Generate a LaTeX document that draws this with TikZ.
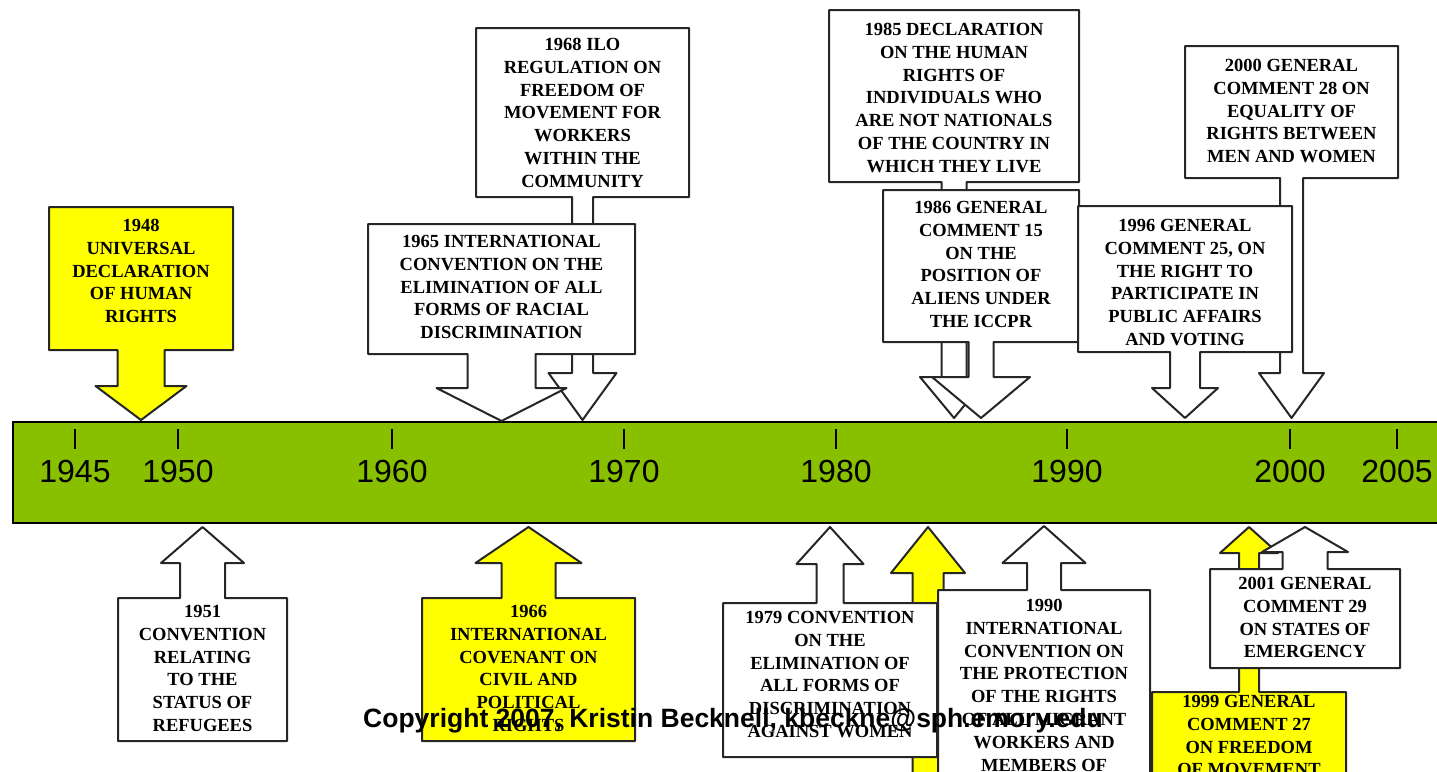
\documentclass[tikz,border=0pt]{standalone}
\usepackage{fontspec}
\setmainfont{Liberation Serif}
\newfontfamily\yearfont{Liberation Sans}
\usepackage{xcolor}
\usepackage{tikz}
\definecolor{barGreen}{RGB}{136,192,0}
\definecolor{calloutYellow}{RGB}{255,255,0}

% callout outline: style, left, right, far side y, arrow side y, half stem, half head, neck y, tip y
\newcommand{\calloutshape}[9]{%
  \draw[#1] (#2,#4) -- (#3,#4) -- (#3,#5)
    -- ({(#2+#3)/2+#6},#5) -- ({(#2+#3)/2+#6},#8) -- ({(#2+#3)/2+#7},#8)
    -- ({(#2+#3)/2},#9)
    -- ({(#2+#3)/2-#7},#8) -- ({(#2+#3)/2-#6},#8) -- ({(#2+#3)/2-#6},#5)
    -- (#2,#5) -- cycle;}

\begin{document}
\begin{tikzpicture}[
    x=1pt, y=-1pt,
    callout/.style={
        draw=black!85,
        line width=2pt,
        line join=round,
        fill=white
    },
    yellowcallout/.style={
        callout,
        fill=calloutYellow
    },
    eventtext/.style={
        font=\bfseries\fontsize{18.5}{22.8}\selectfont,
        align=center,
        anchor=north,
        inner sep=0pt
    },
    yeartick/.style={
        line width=1.5pt
    },
    yearlabel/.style={
        font=\yearfont\fontsize{32}{36}\selectfont,
        anchor=base,
        inner sep=0pt
    }
]
\useasboundingbox (0,0) rectangle (1437,771);

% Timeline bar
\node[draw, line width=2pt, fill=barGreen, minimum width=1440pt, minimum height=101pt,
      anchor=north west, inner sep=0pt] (timeline) at (12,421) {};
\foreach \yr/\px in {1945/75, 1950/178, 1960/392, 1970/624, 1980/836, 1990/1067, 2000/1290, 2005/1397} {
    \draw[yeartick] (\px,429) -- (\px,449);
    \node[yearlabel] (y\yr) at (\px,482) {\yr};
}

% Events above the timeline
\calloutshape{yellowcallout}{49}{233}{207}{350}{23.5}{45.5}{386}{420}
\node[eventtext] (ev1948) at (141,219) {1948\\UNIVERSAL\\DECLARATION\\OF HUMAN\\RIGHTS};

\calloutshape{callout}{476}{689}{28}{197}{10.5}{34}{373}{420}
\node[eventtext] (ev1968) at (582.5,38) {1968 ILO\\REGULATION ON\\FREEDOM OF\\MOVEMENT FOR\\WORKERS\\WITHIN THE\\COMMUNITY};

\calloutshape{callout}{368}{635}{224}{354}{34}{65}{388}{421}
\node[eventtext] (ev1965) at (501.5,235) {1965 INTERNATIONAL\\CONVENTION ON THE\\ELIMINATION OF ALL\\FORMS OF RACIAL\\DISCRIMINATION};

\calloutshape{callout}{829}{1079}{10}{182}{12.5}{34}{377}{418}
\node[eventtext] (ev1985) at (954,23) {1985 DECLARATION\\ON THE HUMAN\\RIGHTS OF\\INDIVIDUALS WHO\\ARE NOT NATIONALS\\OF THE COUNTRY IN\\WHICH THEY LIVE};

\calloutshape{callout}{883}{1079}{190}{342}{12.5}{49}{377}{418}
\node[eventtext] (ev1986) at (981,201) {1986 GENERAL\\COMMENT 15\\ON THE\\POSITION OF\\ALIENS UNDER\\THE ICCPR};

\calloutshape{callout}{1185}{1398}{46}{178}{11.5}{32.5}{373}{418}
\node[eventtext] (ev2000) at (1291.5,59) {2000 GENERAL\\COMMENT 28 ON\\EQUALITY OF\\RIGHTS BETWEEN\\MEN AND WOMEN};

\calloutshape{callout}{1078}{1292}{206}{352}{15}{33}{388}{418}
\node[eventtext] (ev1996) at (1185,219) {1996 GENERAL\\COMMENT 25, ON\\THE RIGHT TO\\PARTICIPATE IN\\PUBLIC AFFAIRS\\AND VOTING};

% Events below the timeline
\calloutshape{callout}{118}{287}{741}{598}{22.5}{41.5}{563}{527}
\node[eventtext] (ev1951) at (202.5,605) {1951\\CONVENTION\\RELATING\\TO THE\\STATUS OF\\REFUGEES};

\calloutshape{yellowcallout}{422}{635}{741}{598}{27}{53}{563}{527}
\node[eventtext] (ev1966) at (528.5,605) {1966\\INTERNATIONAL\\COVENANT ON\\CIVIL AND\\POLITICAL\\RIGHTS};

\calloutshape{yellowcallout}{840}{1016}{900}{790}{15.5}{37}{573}{527}

\calloutshape{callout}{723}{937}{757}{603}{13.5}{33.5}{564}{527}
\node[eventtext] (ev1979) at (830,611) {1979 CONVENTION\\ON THE\\ELIMINATION OF\\ALL FORMS OF\\DISCRIMINATION\\AGAINST WOMEN};

\calloutshape{callout}{938}{1150}{900}{590}{17}{41.5}{563}{526}
\node[eventtext] (ev1990) at (1044,599) {1990\\INTERNATIONAL\\CONVENTION ON\\THE PROTECTION\\OF THE RIGHTS\\OF ALL MIGRANT\\WORKERS AND\\MEMBERS OF};

\calloutshape{yellowcallout}{1152}{1346}{900}{692}{10}{29}{553}{527}
\node[eventtext] (ev1999) at (1249,695) {1999 GENERAL\\COMMENT 27\\ON FREEDOM\\OF MOVEMENT};

\calloutshape{callout}{1210}{1400}{668}{569}{22.5}{43}{552}{527}
\node[eventtext] (ev2001) at (1305,577) {2001 GENERAL\\COMMENT 29\\ON STATES OF\\EMERGENCY};

% Copyright line
\node[font=\yearfont\bfseries\fontsize{26.5}{30}\selectfont, anchor=base, inner sep=0pt] (copyright)
    at (733,727) {Copyright 2007, Kristin Becknell, kbeckne@sph.emory.edu};

\end{tikzpicture}
\end{document}
